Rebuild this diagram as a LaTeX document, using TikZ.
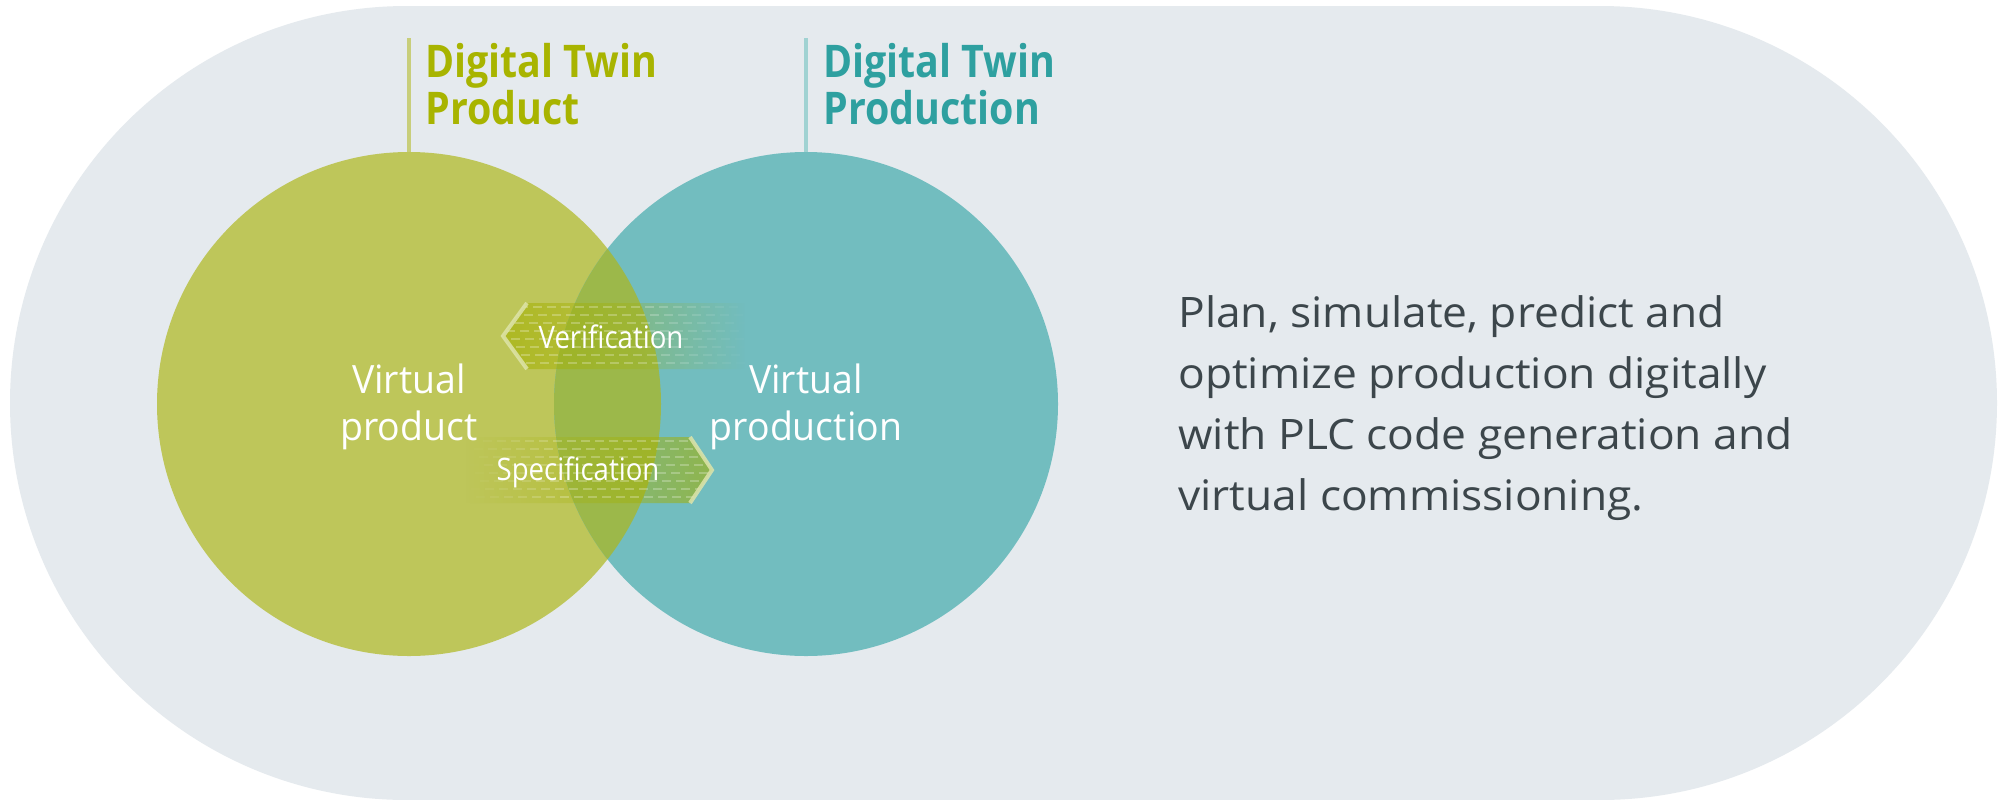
\documentclass[tikz,border=0pt]{standalone}
\usepackage{fontspec}
\setmainfont{Open Sans}
\newfontfamily\titlefont[FakeStretch=0.875]{Open Sans}
\newfontfamily\bodyfont[FakeStretch=1.055]{Open Sans}
\newfontfamily\innerfont[FakeStretch=0.96]{Open Sans}
\newfontfamily\arrowfont[FakeStretch=0.89]{Open Sans}
\usetikzlibrary{fadings}
\definecolor{bgcol}{RGB}{229,234,238}
\definecolor{prodgreen}{RGB}{190,198,90}
\definecolor{prodteal}{RGB}{114,189,191}
\definecolor{overlapcol}{RGB}{156,184,74}
\definecolor{ttlgreen}{RGB}{168,180,0}
\definecolor{ttlteal}{RGB}{46,160,160}
\definecolor{linegreen}{RGB}{200,206,122}
\definecolor{lineteal}{RGB}{160,210,210}
\definecolor{bodytext}{RGB}{60,70,75}
\definecolor{bandcol}{RGB}{163,176,0}
\definecolor{chevcol}{RGB}{222,228,170}
\tikzfading[name=fadeout east, left color=transparent!0, middle color=transparent!15, right color=transparent!100]
\tikzfading[name=fadeout west, left color=transparent!100, middle color=transparent!15, right color=transparent!0]
\tikzset{
  twin/.style={circle, minimum size=252pt, inner sep=0pt, draw=none},
  titletext/.style={anchor=base west, align=left, inner sep=0pt, font=\titlefont\bfseries\fontsize{22.5}{23.5}\selectfont},
  innertext/.style={align=center, inner sep=0pt, text=white, font=\innerfont\fontsize{19.5}{23.5}\selectfont},
  arrowtext/.style={anchor=base, inner sep=0pt, text=white, font=\arrowfont\fontsize{15.5}{16}\selectfont},
  stem/.style={line width=2pt},
  chevron/.style={draw=chevcol, line width=2pt, draw opacity=0.85, line join=miter},
  band/.style={fill=bandcol, fill opacity=0.6}
}
\begin{document}
\begin{tikzpicture}[x=0.5pt, y=-0.5pt]
\useasboundingbox (0,0) rectangle (2004,799);
\fill[white] (0,0) rectangle (2004,799);
% background stadium
\fill[bgcol] (407,6) -- (1600,6) arc[start angle=90, end angle=-90, radius=198.5pt]
  -- (407,800) arc[start angle=270, end angle=90, radius=198.5pt] -- cycle;
% circles
\node[twin, fill=prodgreen] (circ1) at (409,404) {};
\node[twin, fill=prodteal] (circ2) at (806,404) {};
\begin{scope}
  \clip (409,404) circle[radius=126pt];
  \fill[overlapcol] (806,404) circle[radius=126pt];
\end{scope}
% titles and stems
\coordinate (stem1) at (409,38);
\coordinate (stem2) at (806,38);
\draw[stem, linegreen] (circ1.north) -- (stem1);
\draw[stem, lineteal] (circ2.north) -- (stem2);
\node[titletext, text=ttlgreen] (title1) at (425,124) {Digital Twin\\Product};
\node[titletext, text=ttlteal] (title2) at (823,124) {Digital Twin\\Production};
% verification band (points left)
\fill[band, path fading=fadeout east] (503,336) -- (527,303) -- (745,303) -- (745,369) -- (527,369) -- cycle;
\begin{scope}
  \clip (503,336) -- (527,303) -- (745,303) -- (745,369) -- (527,369) -- cycle;
  \foreach \r in {0,...,7}{
    \foreach \k in {0,...,17}{
      \pgfmathsetmacro{\xa}{505+14*\k+mod(5*\r,14)}
      \pgfmathsetmacro{\op}{0.25*min(1,max(0,(745-\xa)/110))}
      \draw[white, line width=0.8pt, draw opacity=\op] (\xa,307+8*\r) -- ++(9,0);
    }
  }
\end{scope}
\draw[chevron] (527,303) -- (503,336) -- (527,369);
% specification band (points right)
\fill[band, path fading=fadeout west] (712,470) -- (690,437) -- (465,437) -- (465,503) -- (690,503) -- cycle;
\begin{scope}
  \clip (712,470) -- (690,437) -- (465,437) -- (465,503) -- (690,503) -- cycle;
  \foreach \r in {0,...,7}{
    \foreach \k in {0,...,18}{
      \pgfmathsetmacro{\xa}{455+14*\k+mod(5*\r,14)}
      \pgfmathsetmacro{\op}{0.25*min(1,max(0,(\xa-465)/100))}
      \draw[white, line width=0.8pt, draw opacity=\op] (\xa,441+8*\r) -- ++(9,0);
    }
  }
\end{scope}
\draw[chevron] (690,437) -- (712,470) -- (690,503);
% labels
\node[arrowtext] (verif) at (611,348) {Verification};
\node[arrowtext] (spec) at (578,480) {Specification};
\node[innertext, anchor=base] (vp1) at (409,440) {Virtual\\product};
\node[innertext, anchor=base] (vp2) at (806,440) {Virtual\\production};
% description
\node[anchor=base west, align=left, inner sep=0pt, text=bodytext,
      font=\bodyfont\fontsize{21}{30.5}\selectfont] (desc) at (1178,510)
  {Plan, simulate, predict and\\optimize production digitally\\with PLC code generation and\\virtual commissioning.};
\end{tikzpicture}
\end{document}
